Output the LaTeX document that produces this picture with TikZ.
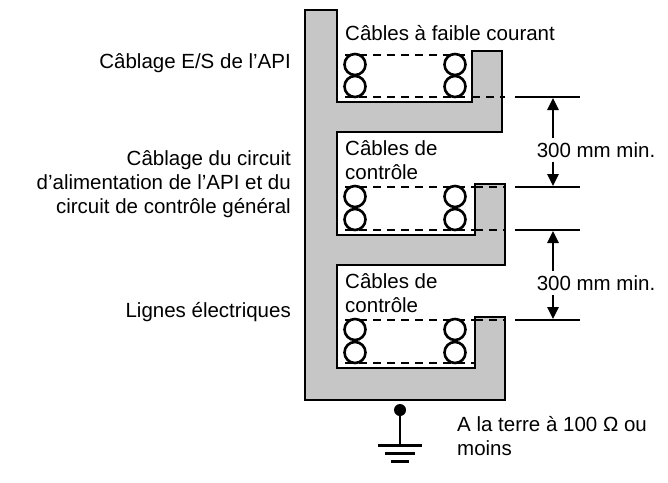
\documentclass[tikz,border=0pt]{standalone}
\usepackage{fontspec}
\setmainfont{Liberation Sans}[Ligatures=ResetAll]
\usetikzlibrary{arrows.meta}
\begin{document}
\begin{tikzpicture}[x=1pt,y=-1pt,
  lbl/.style={font=\fontsize{20.5}{24}\selectfont,inner sep=0pt},
  coil/.style={line width=2.6pt},
  dsh/.style={line width=2.6pt,dash pattern=on 8pt off 6pt},
  dim/.style={line width=2.6pt},
  arr/.style={line width=2.6pt,-{Triangle[length=12pt,width=11pt]}}]
\useasboundingbox (0,0) rectangle (668,482);
\fill[gray!45] (305,10) -- (337,10) -- (337,102) -- (472,102) -- (472,51) -- (502,51) -- (502,132) -- (337,132) -- (337,235) -- (475,235) -- (475,184) -- (505,184) -- (505,265) -- (337,265) -- (337,368) -- (475,368) -- (475,317) -- (505,317) -- (505,400) -- (305,400) -- cycle;
\foreach \t/\b/\r in {55/97/472, 187/230/475, 320/363/475}{
  \draw[dsh] (345,\t) -- (\r,\t);
  \draw[dsh] (345,\b) -- (\r,\b);
  \foreach \cx in {355,455}{
    \draw[coil,fill=white] (\cx,{\t+9.5}) circle (10.5);
    \draw[coil,fill=white] (\cx,{\b-10.5}) circle (10.5);
  }
}
\draw[dsh] (472,97) -- (505,97);
\draw[dsh] (475,187) -- (505,187);
\draw[dsh] (475,230) -- (505,230);
\draw[dsh] (475,320) -- (505,320);
\draw[line width=2.6pt,line join=miter] (305,10) -- (337,10) -- (337,102) -- (472,102) -- (472,51) -- (502,51) -- (502,132) -- (337,132) -- (337,235) -- (475,235) -- (475,184) -- (505,184) -- (505,265) -- (337,265) -- (337,368) -- (475,368) -- (475,317) -- (505,317) -- (505,400) -- (305,400) -- cycle;
\coordinate (d1) at (515,97); \coordinate (d2) at (515,187);
\coordinate (d3) at (515,230); \coordinate (d4) at (515,320);
\foreach \d in {d1,d2,d3,d4}{ \draw[dim] (\d) -- ++(65,0); }
\node[lbl,fill=white,inner sep=2pt] (m1) at (596,150) {300 mm min.};
\node[lbl,fill=white,inner sep=2pt] (m2) at (596,283) {300 mm min.};
\draw[arr] (553,138) -- (553,98);
\draw[arr] (553,162) -- (553,186);
\draw[arr] (553,271) -- (553,231);
\draw[arr] (553,295) -- (553,319);
\fill (400,410) circle (6);
\draw[line width=2.6pt] (400,410) -- (400,445);
\draw[line width=3pt] (378,445) -- (422,445);
\draw[line width=3pt] (385,453) -- (415,453);
\draw[line width=3pt] (391,461) -- (409,461);
\node[lbl,anchor=west] (t1) at (345,33) {Câbles à faible courant};
\node[lbl,anchor=west,align=left] (t2) at (345,160) {Câbles de\\contrôle};
\node[lbl,anchor=west,align=left] (t3) at (345,293) {Câbles de\\contrôle};
\node[lbl,anchor=east] (l1) at (291,63) {Câblage E/S de l'API};
\node[lbl,anchor=east,align=right] (l2) at (291,184) {Câblage du circuit\\d'alimentation de l'API et du\\circuit de contrôle général};
\node[lbl,anchor=east] (l3) at (291,312) {Lignes électriques};
\node[lbl,anchor=north west,align=left] (g) at (457,416) {A la terre à 100 Ω ou\\moins};
\end{tikzpicture}
\end{document}
